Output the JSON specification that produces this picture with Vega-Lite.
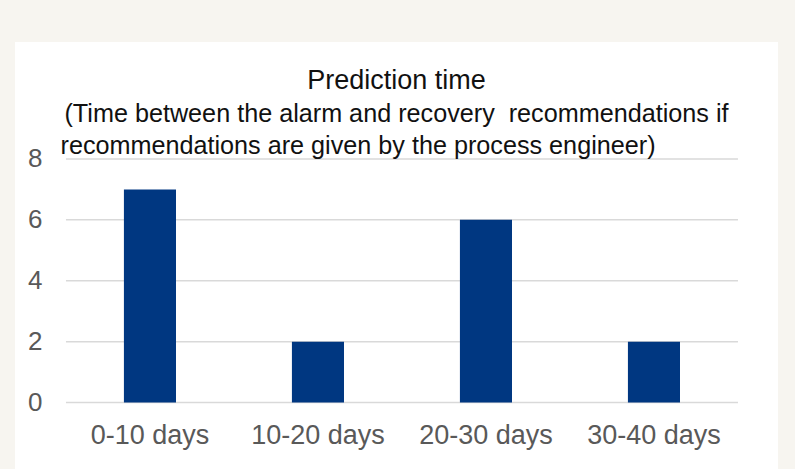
{
  "$schema": "https://vega.github.io/schema/vega-lite/v6.json",
  "width": 763,
  "height": 427,
  "autosize": {"type": "none"},
  "padding": {"left": 15, "top": 42, "right": 17, "bottom": 0},
  "background": "#f7f5f0",
  "config": {"view": {"fill": "#ffffff", "stroke": null}, "font": "Liberation Sans"},
  "title": {
    "text": "Prediction time",
    "subtitle": ["(Time between the alarm and recovery\u00a0 recommendations if", "recommendations are given by the process engineer)\u00a0\u00a0\u00a0\u00a0\u00a0\u00a0\u00a0\u00a0\u00a0\u00a0\u00a0\u200d"],
    "anchor": "middle",
    "frame": "group",
    "fontSize": 27,
    "fontWeight": "normal",
    "color": "#111111",
    "subtitleFontSize": 25.2,
    "subtitleColor": "#111111",
    "subtitleLineHeight": 31.5,
    "subtitlePadding": 7,
    "offset": -118
  },
  "datasets": {
    "bars": [
      {"range": "0-10 days", "count": 7},
      {"range": "10-20 days", "count": 2},
      {"range": "20-30 days", "count": 6},
      {"range": "30-40 days", "count": 2}
    ],
    "grid": [{"v": 0}, {"v": 2}, {"v": 4}, {"v": 6}, {"v": 8}]
  },
  "layer": [
    {
      "data": {"name": "grid"},
      "mark": {"type": "rule", "color": "#d9d9d9", "strokeWidth": 1.5},
      "encoding": {
        "x": {
          "datum": "0-10 days", "type": "nominal", "bandPosition": 0,
          "axis": {"title": null, "bandPosition": 0.5, "labelAngle": 0, "ticks": false, "domain": false, "labelFontSize": 27, "labelColor": "#595959", "offset": -47, "labelPadding": 0}
        },
        "x2": {"datum": "30-40 days", "bandPosition": 1},
        "y": {
          "field": "v", "type": "quantitative",
          "axis": {"title": null, "values": [0, 2, 4, 6, 8], "grid": false, "ticks": false, "domain": false, "labelFontSize": 26, "labelColor": "#595959", "offset": -27, "labelPadding": 0}
        }
      }
    },
    {
      "data": {"name": "bars"},
      "mark": {"type": "bar", "color": "#003781", "width": {"band": 0.31}},
      "encoding": {
        "x": {
          "field": "range",
          "type": "nominal",
          "scale": {"domain": ["0-10 days", "10-20 days", "20-30 days", "30-40 days"], "paddingInner": 0, "paddingOuter": 0.2708, "align": 0.56},
          "axis": {"title": null, "bandPosition": 0.5, "labelAngle": 0, "ticks": false, "domain": false, "labelFontSize": 27, "labelColor": "#595959", "offset": -47, "labelPadding": 0}
        },
        "y": {
          "field": "count",
          "type": "quantitative",
          "scale": {"domain": [-2.18, 11.84], "nice": false, "zero": false},
          "axis": {"title": null, "values": [0, 2, 4, 6, 8], "grid": false, "ticks": false, "domain": false, "labelFontSize": 26, "labelColor": "#595959", "offset": -27, "labelPadding": 0}
        },
        "y2": {"datum": 0}
      }
    }
  ]
}
